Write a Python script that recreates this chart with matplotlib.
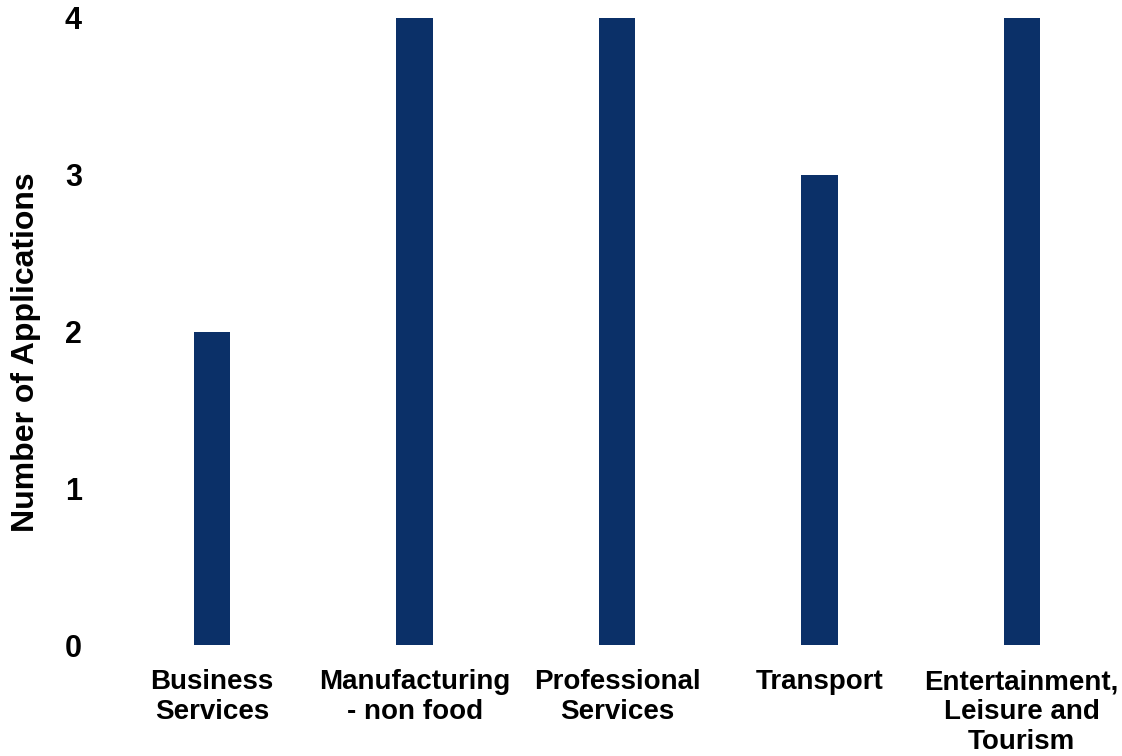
import matplotlib
matplotlib.use('Agg')
import matplotlib.pyplot as plt

categories = ['Business\nServices', 'Manufacturing\n- non food', 'Professional\nServices',
              'Transport', 'Entertainment,\nLeisure and\nTourism']
applications = [2, 4, 4, 3, 4]
yticks = [0, 1, 2, 3, 4]

plt.rcParams['font.family'] = ['Liberation Sans', 'DejaVu Sans']
plt.rcParams['font.weight'] = 'bold'

fig = plt.figure(figsize=(11.22, 7.56), dpi=100)
ax = fig.add_axes([0.0989, 0.1462, 0.902, 0.830])

x = range(len(categories))
ax.bar(x, applications, width=0.18, color='#0B3068')

ax.set_xlim(-0.5, len(categories) - 0.5)
ax.set_ylim(0, 4)
ax.set_yticks(yticks)
ax.set_xticks(list(x))
ax.set_xticklabels(categories, fontsize=20, fontweight='bold', linespacing=1.2)
ax.set_yticklabels([str(t) for t in yticks], fontsize=22, fontweight='bold')
ax.tick_params(axis='both', length=0)
ax.tick_params(axis='y', pad=21)
ax.tick_params(axis='x', pad=17)
for s in ax.spines.values():
    s.set_visible(False)

# y label placed in figure pixels so it sits like the reference
fig.text(26 / 1122, 1 - 352 / 756, 'Number of Applications', rotation=90,
         ha='center', va='center', fontsize=23, fontweight='bold')

fig.savefig('out.png', dpi=100)
